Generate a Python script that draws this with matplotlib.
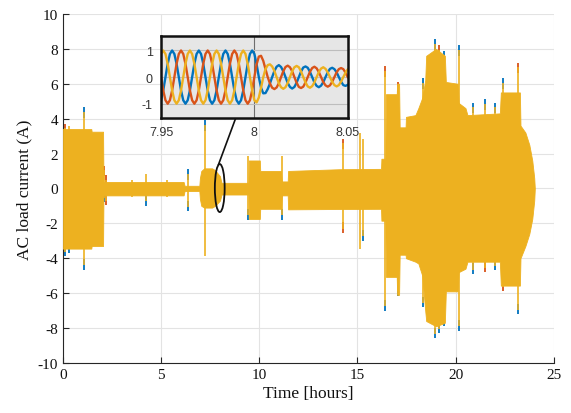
"""
AC load current over one day, with a zoomed inset of the three phases
around t = 8 h.  Writes out.png.
"""

import numpy as np
import matplotlib
matplotlib.use('Agg')
import matplotlib.pyplot as plt
from matplotlib.patches import Ellipse

plt.rcParams['axes.unicode_minus'] = False

# ── colours (MATLAB default order) ───────────────────────────────────────────
C_BLUE = '#0072bd'
C_RED = '#d95319'
C_YEL = '#edb120'
C_GRID = '#e3e3e3'
TIP_COL = {'b': C_BLUE, 'r': C_RED}

# ── envelope of the dense AC signal (hours, A) ───────────────────────────────
ENV_T = [0.00, 1.45, 1.47, 2.05, 2.07, 6.15, 6.20, 6.95, 6.98, 7.05,
         7.20, 7.60, 7.75, 8.00, 8.08, 9.45, 9.47, 10.03, 10.05, 11.10,
         11.15, 11.45, 11.47, 14.10, 16.20, 16.22, 16.42, 16.45, 17.00, 17.02,
         17.12, 17.15, 17.45, 17.47, 17.95, 18.10, 18.30, 18.45, 18.50, 19.00,
         19.45, 19.50, 20.10, 20.15, 20.50, 20.60, 22.25, 22.30, 23.27, 23.30,
         23.55, 23.75, 23.90, 24.00, 24.03]
ENV_HI = [3.40, 3.40, 3.25, 3.25, 0.37, 0.37, 0.15, 0.15, 0.60, 1.00,
          1.15, 1.15, 1.05, 0.70, 0.32, 0.32, 1.60, 1.60, 1.00, 1.00,
          0.40, 0.40, 1.00, 1.10, 1.12, 1.70, 1.70, 5.40, 5.40, 6.00,
          6.00, 3.50, 3.50, 4.10, 4.20, 4.60, 5.20, 6.20, 7.60, 8.00,
          7.60, 6.10, 6.00, 4.90, 4.60, 4.20, 4.30, 5.50, 5.50, 3.60,
          3.20, 2.50, 1.60, 0.60, 0.00]
ENV_LO = [-3.45, -3.45, -3.30, -3.30, -0.40, -0.40, -0.15, -0.15, -0.60, -1.00,
          -1.10, -1.10, -1.00, -0.70, -0.35, -0.35, -1.75, -1.75, -1.17, -1.17,
          -0.40, -0.40, -1.20, -1.18, -1.17, -1.85, -1.85, -5.07, -5.07, -6.10,
          -6.10, -3.80, -3.80, -4.00, -4.20, -4.30, -5.00, -7.00, -7.60, -7.90,
          -7.70, -5.90, -5.90, -4.80, -4.60, -4.20, -4.20, -5.57, -5.57, -4.00,
          -3.30, -2.60, -1.75, -0.70, 0.00]

# ── isolated spikes: time, top, bottom, tip colour top / bottom ──────────────
SPK_T = [0.12, 0.30, 1.07, 2.08, 2.20, 3.50, 4.26, 5.30, 6.38, 7.23,
         9.42, 11.18, 14.27, 15.15, 15.30, 16.40, 17.05, 18.35, 18.95, 19.15,
         19.40, 20.17, 20.90, 21.50, 22.00, 22.40, 23.17]
SPK_HI = [3.70, 3.60, 4.65, 1.30, 0.75, 0.50, 0.85, 0.50, 1.10, 3.90,
          1.85, 1.85, 2.85, 3.20, 2.85, 7.00, 6.10, 6.30, 8.55, 8.20,
          7.90, 8.20, 4.90, 5.10, 4.90, 6.30, 7.20]
SPK_LO = [-3.90, -3.70, -4.65, -0.80, -0.95, -0.50, -1.00, -0.50, -1.30, -3.85,
          -1.80, -1.80, -2.55, -3.50, -3.00, -7.00, -6.15, -6.80, -8.60, -8.30,
          -7.90, -8.15, -4.90, -4.80, -4.70, -5.90, -7.20]
SPK_TIP_HI = ['r', '', 'b', 'r', 'r', '', '', '', 'b', 'b',
              '', '', 'r', '', '', 'r', 'r', 'b', 'b', 'r',
              'b', 'b', 'b', 'b', 'b', 'b', 'r']
SPK_TIP_LO = ['b', 'b', 'b', 'b', 'r', '', 'b', '', 'b', '',
              'b', 'b', 'r', '', 'b', 'b', 'b', 'b', 'b', 'b',
              'b', 'b', 'b', 'r', 'b', 'r', 'b']

# ── inset: three phase currents, 7.95 h → 8.05 h ─────────────────────────────
INSET_YEL = [0.87, 1, 0.87, 0.5, 0, -0.5, -0.87, -1, -0.87, -0.5, 0, 0.5,
             0.87, 1, 0.87, 0.5, 0, -0.5, -0.87, -1, -0.87, -0.5, 0, 0.5,
             0.87, 1, 0.87, 0.5, 0, -0.5, -0.87, -1, -0.87, -0.5, 0, 0.5,
             0.87, 1, 0.87, 0.5, 0, -0.5,
             -0.87, -0.95, -0.77, -0.4, 0, 0.3,
             0.45, 0.48, 0.40, 0.23, 0, -0.23, -0.38, -0.44, -0.38, -0.22, 0, 0.22,
             0.37, 0.42, 0.37, 0.21, 0, -0.2, -0.35, -0.4, -0.34, -0.2, 0, 0.19,
             0.32, 0.37, 0.31, 0.18, 0, -0.18, -0.3, -0.35, -0.3, -0.17, 0, 0.17,
             0.29]
INSET_RED = [0, -0.5, -0.87, -1, -0.87, -0.5, 0, 0.5, 0.87, 1, 0.87, 0.5,
             0, -0.5, -0.87, -1, -0.87, -0.5, 0, 0.5, 0.87, 1, 0.87, 0.5,
             0, -0.5, -0.87, -1, -0.87, -0.5, 0, 0.5, 0.87, 1, 0.87, 0.5,
             0, -0.5, -0.87, -1, -0.87, -0.5,
             0, 0.48, 0.77, 0.8, 0.61, 0.3,
             0, -0.24, -0.4, -0.45, -0.39, -0.23, 0, 0.22, 0.38, 0.43, 0.37, 0.22,
             0, -0.21, -0.37, -0.41, -0.36, -0.2, 0, 0.2, 0.34, 0.39, 0.33, 0.19,
             0, -0.19, -0.31, -0.36, -0.31, -0.18, 0, 0.18, 0.3, 0.34, 0.3, 0.17,
             0]
INSET_BLUE = [-0.87, -0.5, 0, 0.5, 0.87, 1, 0.87, 0.5, 0, -0.5, -0.87, -1,
              -0.87, -0.5, 0, 0.5, 0.87, 1, 0.87, 0.5, 0, -0.5, -0.87, -1,
              -0.87, -0.5, 0, 0.5, 0.87, 1, 0.87, 0.5, 0, -0.5, -0.87, -1,
              -0.87, -0.5, 0, 0.5, 0.87, 1,
              0.87, 0.48, 0, -0.4, -0.61, -0.6,
              -0.45, -0.24, 0, 0.23, 0.39, 0.45, 0.38, 0.22, 0, -0.22, -0.37, -0.43,
              -0.37, -0.21, 0, 0.21, 0.36, 0.4, 0.35, 0.2, 0, -0.2, -0.33, -0.38,
              -0.32, -0.19, 0, 0.18, 0.31, 0.35, 0.3, 0.18, 0, -0.17, -0.3, -0.33,
              -0.29]
INSET_T0, INSET_T1 = 7.95, 8.05

# ── figure ───────────────────────────────────────────────────────────────────
SERIF = ['Liberation Serif', 'DejaVu Serif']
SANS = ['Liberation Sans', 'DejaVu Sans']

fig = plt.figure(figsize=(5.71, 4.14), dpi=100, facecolor='white')
ax = fig.add_axes([0.110, 0.121, 0.860, 0.843])

ax.fill_between(ENV_T, ENV_LO, ENV_HI, color=C_YEL, lw=0.6, edgecolor=C_YEL,
                zorder=3)

# coloured tips first (under the yellow trace), then the yellow spikes
for t, hi, lo, th, tl in zip(SPK_T, SPK_HI, SPK_LO, SPK_TIP_HI, SPK_TIP_LO):
    if th:
        ax.vlines(t, hi - 0.6, hi, color=TIP_COL[th], lw=1.3, zorder=2)
    if tl:
        ax.vlines(t, lo, lo + 0.6, color=TIP_COL[tl], lw=1.3, zorder=2)
    top = hi - 0.25 if th else hi
    bot = lo + 0.25 if tl else lo
    ax.vlines(t, bot, top, color=C_YEL, lw=1.2, zorder=3)

ax.set_xlim(0, 25)
ax.set_ylim(-10, 10)
ax.set_xticks(np.arange(0, 26, 5))
ax.set_yticks(np.arange(-10, 11, 2))
ax.grid(True, color=C_GRID, lw=0.8)
ax.set_axisbelow(True)
for s in ['top', 'right']:
    ax.spines[s].set_visible(False)
for s in ['left', 'bottom']:
    ax.spines[s].set_color('#262626')
    ax.spines[s].set_linewidth(0.8)
ax.tick_params(direction='in', length=4, width=0.8, color='#262626',
               labelsize=11, labelcolor='#111111')
for lab in ax.get_xticklabels() + ax.get_yticklabels():
    lab.set_family(SERIF)
ax.set_xlabel('Time [hours]', fontsize=12.5, family=SERIF, color='#111111',
              labelpad=3)
ax.set_ylabel('AC load current (A)', fontsize=12.5, family=SERIF,
              color='#111111', labelpad=4)

# callout: ellipse round the zoomed zone and a line up to the inset
ax.add_patch(Ellipse((7.99, 0.02), width=0.5, height=2.75, fill=False,
                     ec='#111111', lw=1.3, zorder=5))
ax.plot([7.93, 8.81], [1.38, 4.05], color='#111111', lw=1.2, zorder=5)

# ── inset ────────────────────────────────────────────────────────────────────
axi = fig.add_axes([0.282, 0.713, 0.327, 0.198])
axi.set_facecolor('#e6e6e6')
ti = np.linspace(INSET_T0, INSET_T1, len(INSET_BLUE))
axi.plot(ti, INSET_BLUE, color=C_BLUE, lw=1.7)
axi.plot(ti, INSET_RED, color=C_RED, lw=1.7)
axi.plot(ti, INSET_YEL, color=C_YEL, lw=1.7)
axi.set_xlim(INSET_T0, INSET_T1)
axi.set_ylim(-1.53, 1.55)
axi.set_xticks([7.95, 8.0, 8.05])
axi.set_xticklabels(['7.95', '8', '8.05'])
axi.set_yticks([-1, 0, 1])
axi.grid(True, axis='y', color='#bdbdbd', lw=0.8)
axi.grid(True, axis='x', color='#6e6e6e', lw=0.8)
for s in axi.spines.values():
    s.set_linewidth(1.8)
    s.set_color('#111111')
axi.tick_params(length=0, labelsize=9, labelcolor='#333333', pad=6)
for lab in axi.get_xticklabels() + axi.get_yticklabels():
    lab.set_family(SANS)

fig.savefig('out.png', dpi=100, facecolor='white')
